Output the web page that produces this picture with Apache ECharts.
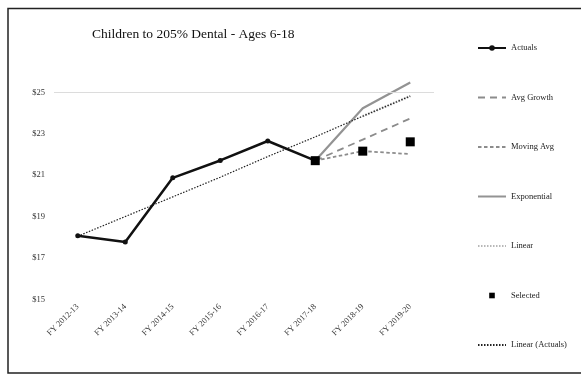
<!DOCTYPE html>
<html><head><meta charset="utf-8">
<script src="https://cdn.jsdelivr.net/npm/echarts@6/dist/echarts.min.js"></script>
<style>html,body{margin:0;padding:0;background:#fff}#c{width:581px;height:377px}</style>
</head><body><div id="c"></div>
<script>
const categories = ['FY 2012-13','FY 2013-14','FY 2014-15','FY 2015-16','FY 2016-17','FY 2017-18','FY 2018-19','FY 2019-20'];
const actuals      = [18.07, 17.77, 20.87, 21.71, 22.65, 21.70, null, null];
const avgGrowth    = [null, null, null, null, null, 21.70, 22.72, 23.74];
const movingAvg    = [null, null, null, null, null, 21.70, 22.16, 22.02];
const exponential  = [null, null, null, null, null, 21.70, 24.23, 25.48];
const linear       = [null, null, null, null, null, null, 23.85, 24.82];
const selected     = [null, null, null, null, null, 21.70, 22.16, 22.61];
const linearActual = [18.05, 19.0, 19.95, 20.9, 21.9, 22.85, 23.85, 24.82];
const yTicks = [15, 17, 19, 21, 23, 25];
const gridValue = 25;

const serif = '"Liberation Serif", "DejaVu Serif", serif';
const noSym = { opacity: 0 };
const chart = echarts.init(document.getElementById('c'));
chart.setOption({
  animation: false,
  backgroundColor: '#fff',
  title: {
    text: 'Children to 205% Dental - Ages 6-18',
    left: 87, top: 22,
    textStyle: { fontFamily: serif, fontSize: 13.5, fontWeight: 'normal', color: '#111' }
  },
  graphic: [
    { type: 'rect', shape: { x: 8, y: 8.5, width: 590, height: 364.5 }, style: { fill: 'none', stroke: '#222', lineWidth: 1.5 }, silent: true }
  ],
  legend: {
    orient: 'vertical',
    left: 477, top: 43.5, padding: 0,
    itemWidth: 28, itemHeight: 7, itemGap: 40.5,
    textStyle: { fontFamily: serif, fontSize: 8.5, color: '#222', lineHeight: 7 },
    data: [
      { name: 'Actuals' },
      { name: 'Avg Growth', itemStyle: noSym },
      { name: 'Moving Avg', itemStyle: noSym },
      { name: 'Exponential', itemStyle: noSym },
      { name: 'Linear', itemStyle: noSym },
      { name: 'Selected' },
      { name: 'Linear (Actuals)', itemStyle: noSym }
    ]
  },
  grid: { left: 54, right: 147, top: 51, bottom: 77.7 },
  xAxis: {
    type: 'category', data: categories, boundaryGap: true,
    axisLine: { show: false }, axisTick: { show: false },
    axisLabel: { rotate: 45, fontFamily: serif, fontSize: 8.5, color: '#333', margin: 6, interval: 0 }
  },
  yAxis: {
    type: 'value', min: 15, max: 27, interval: 2,
    axisLine: { show: false }, axisTick: { show: false },
    splitLine: { show: false },
    axisLabel: {
      fontFamily: serif, fontSize: 8.5, color: '#333', margin: 9,
      formatter: v => yTicks.includes(v) ? '$' + v : ''
    }
  },
  series: [
    { name: 'Actuals', type: 'line', data: actuals, symbol: 'circle', symbolSize: 5,
      itemStyle: { color: '#111' }, lineStyle: { color: '#111', width: 2.5 }, z: 5,
      markLine: { silent: true, symbol: 'none', label: { show: false },
        lineStyle: { color: '#dcdcdc', type: 'solid', width: 1 }, data: [{ yAxis: gridValue }] } },
    { name: 'Avg Growth', type: 'line', data: avgGrowth, showSymbol: false, symbol: 'none',
      itemStyle: { color: '#8c8c8c' }, lineStyle: { color: '#8c8c8c', width: 1.8, type: [7, 5] } },
    { name: 'Moving Avg', type: 'line', data: movingAvg, showSymbol: false, symbol: 'none',
      itemStyle: { color: '#8c8c8c' }, lineStyle: { color: '#8c8c8c', width: 1.8, type: [3.5, 2.5] } },
    { name: 'Exponential', type: 'line', data: exponential, showSymbol: false, symbol: 'none',
      itemStyle: { color: '#939393' }, lineStyle: { color: '#939393', width: 2.2 } },
    { name: 'Linear', type: 'line', data: linear, showSymbol: false, symbol: 'none',
      itemStyle: { color: '#b8b8b8' }, lineStyle: { color: '#b8b8b8', width: 2.5, type: [1.5, 1.5] } },
    { name: 'Selected', type: 'line', data: selected, symbol: 'rect', symbolSize: 9,
      itemStyle: { color: '#000' }, lineStyle: { width: 0, opacity: 0 }, z: 6 },
    { name: 'Linear (Actuals)', type: 'line', data: linearActual, showSymbol: false, symbol: 'none',
      itemStyle: { color: '#222' }, lineStyle: { color: '#222', width: 1.2, type: [1.5, 1.5] }, z: 4 }
  ]
});
</script></body></html>
